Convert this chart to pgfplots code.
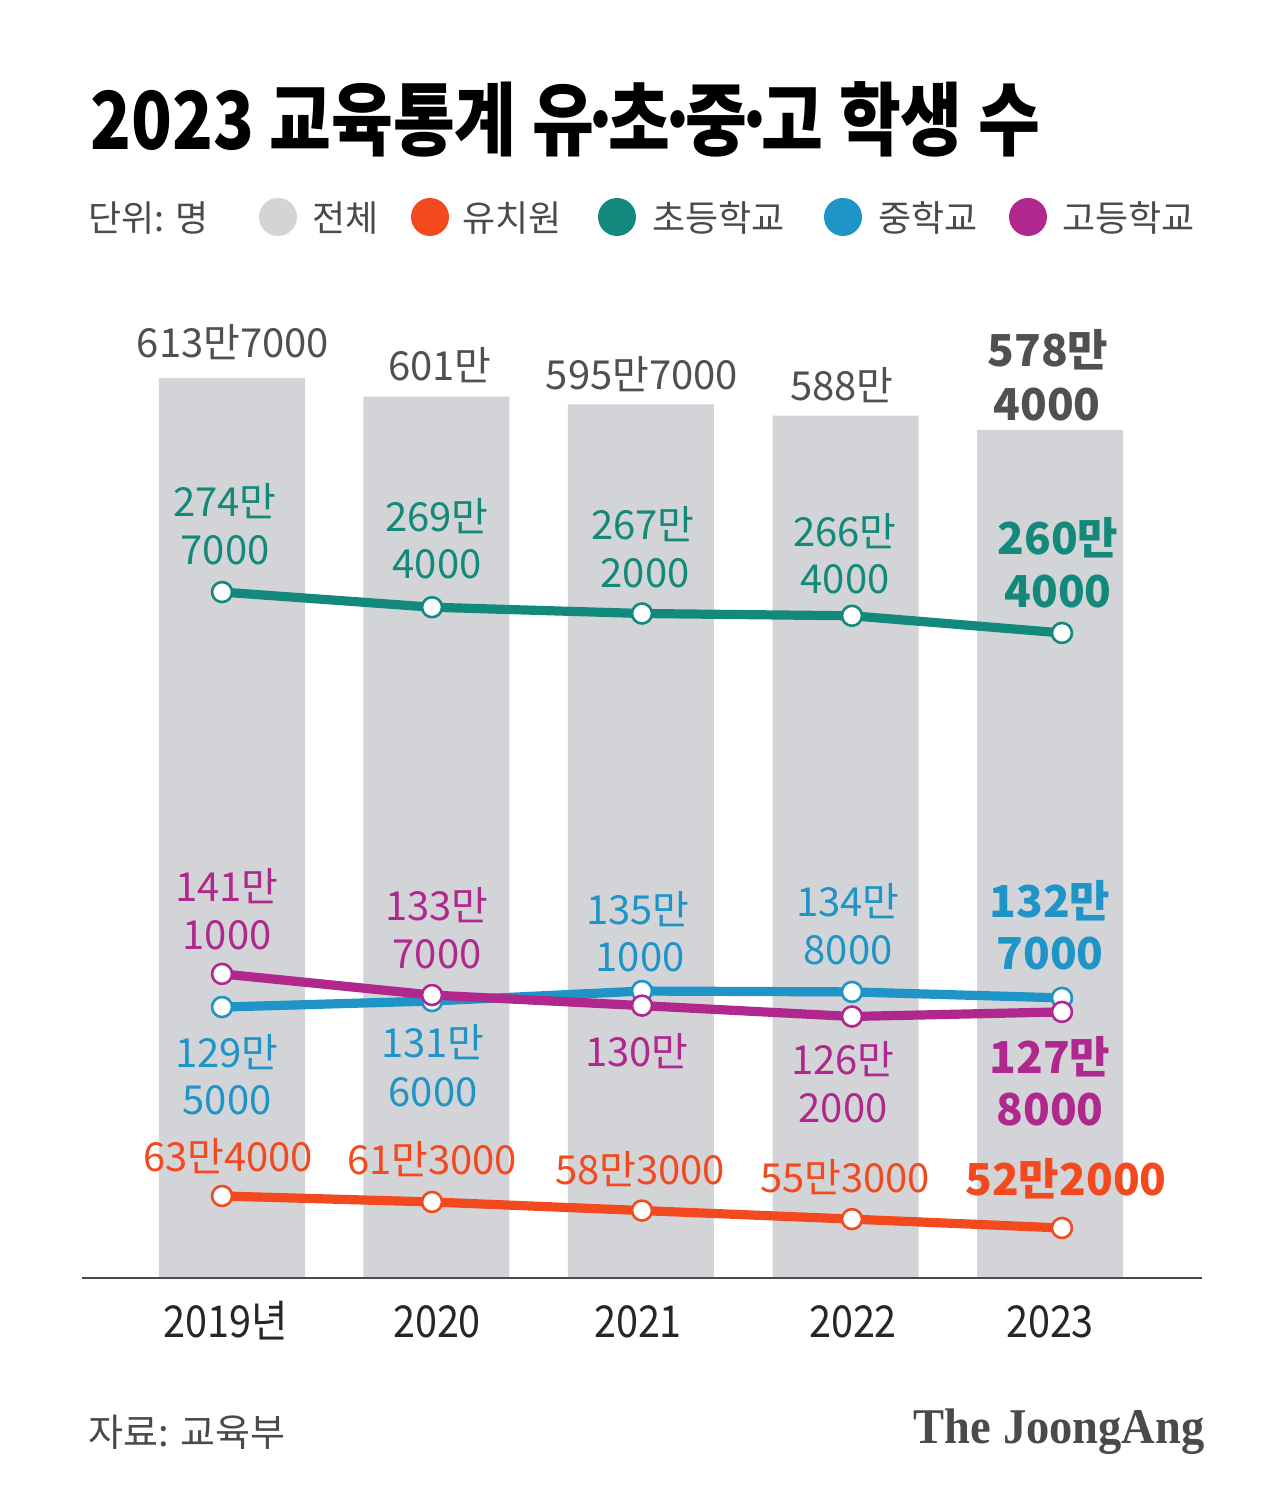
\documentclass[border=0pt]{standalone}
\usepackage{pgfplots}
\pgfplotsset{compat=1.18}
\usepackage{fontspec}
\setmainfont{Noto Sans CJK KR}
\newfontfamily\logofont{Liberation Serif}
\definecolor{barg}{HTML}{D2D4D7}
\definecolor{ctot}{HTML}{505050}
\definecolor{ckin}{HTML}{F24A1E}
\definecolor{cele}{HTML}{12897A}
\definecolor{cmid}{HTML}{1E95C6}
\definecolor{chig}{HTML}{B0288D}
\definecolor{cleg}{HTML}{D3D4D6}
\definecolor{ctxt}{HTML}{4A4A4A}
\newcommand{\md}{\makebox[0.22em][c]{·}}
\begin{document}
\begin{tikzpicture}
\path[use as bounding box] (0,0) rectangle (640pt,753pt);
\fill[white] (0,0) rectangle (640pt,753pt);
% bars: total students (만 명)
\begin{axis}[at={(41pt,114pt)}, anchor=south west, scale only axis,
  width=560pt, height=450pt, xmin=-0.733, xmax=4.743, ymin=0, ymax=613.7,
  axis lines=none, clip=false]
\addplot[ybar, bar width=73pt, fill=barg, draw=none] coordinates {(0,613.7)(1,601.0)(2,595.7)(3,588.0)(4,578.4)};
\end{axis}
% lines
\begin{axis}[at={(41pt,114pt)}, anchor=south west, scale only axis,
  width=560pt, height=450pt, xmin=-0.667, xmax=4.667, ymin=34.7, ymax=349.6,
  axis lines=none, clip=false]
\addplot[cele, line width=4.6pt, line join=round, mark=*, mark size=5pt, mark options={fill=white, draw=cele, line width=1.3pt}] coordinates {(0,274.7)(1,269.4)(2,267.2)(3,266.4)(4,260.4)};
\addplot[cmid, line width=4.6pt, line join=round, mark=*, mark size=5pt, mark options={fill=white, draw=cmid, line width=1.3pt}] coordinates {(0,129.5)(1,131.6)(2,135.1)(3,134.8)(4,132.7)};
\addplot[chig, line width=4.6pt, line join=round, mark=*, mark size=5pt, mark options={fill=white, draw=chig, line width=1.3pt}] coordinates {(0,141.1)(1,133.7)(2,130.0)(3,126.2)(4,127.8)};
\addplot[ckin, line width=4.6pt, line join=round, mark=*, mark size=5pt, mark options={fill=white, draw=ckin, line width=1.3pt}] coordinates {(0,63.4)(1,61.3)(2,58.3)(3,55.3)(4,52.2)};
\end{axis}
\begin{scope}[shift={(0pt,753pt)}, x=0.5pt, y=-0.5pt]
% baseline
\draw[ctxt, line width=1.4pt] (82,1278) -- (1202,1278);
% title
\node[anchor=base west, inner sep=0pt, xscale=0.84, font=\fontsize{40}{48}\selectfont\bfseries, text=black] at (90,150) {2023 교육통계 유\md 초\md 중\md 고 학생 수};
% legend
\tikzset{lg/.style={anchor=base west, inner sep=0pt, font=\fontsize{18}{22}\selectfont, text=ctxt}}
\node[lg] at (88,232) {단위: 명};
\fill[cleg] (278,217) circle (19);
\node[lg] at (312,232) {전체};
\fill[ckin] (430,217) circle (19);
\node[lg] at (462,232) {유치원};
\fill[cele] (617,217) circle (19);
\node[lg] at (652,232) {초등학교};
\fill[cmid] (843,217) circle (19);
\node[lg] at (878,232) {중학교};
\fill[chig] (1028,217) circle (19);
\node[lg] at (1062,232) {고등학교};
% value labels
\tikzset{v/.style={anchor=base, inner sep=0pt, font=\fontsize{20}{24}\selectfont},
         vb/.style={anchor=base, inner sep=0pt, font=\fontsize{22}{26}\selectfont\bfseries}}
% totals
\node[v, text=ctot] at (233,358) {613만7000};
\node[v, text=ctot] at (440,381) {601만};
\node[v, text=ctot] at (642,390) {595만7000};
\node[v, text=ctot] at (842,401) {588만};
\node[vb, text=ctot] at (1048,367) {578만};
\node[vb, text=ctot] at (1047,421) {4000};
% elementary
\node[v, text=cele] at (225,517) {274만};
\node[v, text=cele] at (225,565) {7000};
\node[v, text=cele] at (437,532) {269만};
\node[v, text=cele] at (437,579) {4000};
\node[v, text=cele] at (643,540) {267만};
\node[v, text=cele] at (645,588) {2000};
\node[v, text=cele] at (845,547) {266만};
\node[v, text=cele] at (845,594) {4000};
\node[vb, text=cele] at (1058,555) {260만};
\node[vb, text=cele] at (1058,608) {4000};
% high
\node[v, text=chig] at (227,902) {141만};
\node[v, text=chig] at (227,950) {1000};
\node[v, text=chig] at (437,921) {133만};
\node[v, text=chig] at (437,969) {7000};
\node[v, text=chig] at (637,1067) {130만};
\node[v, text=chig] at (843,1075) {126만};
\node[v, text=chig] at (843,1123) {2000};
\node[vb, text=chig] at (1050,1074) {127만};
\node[vb, text=chig] at (1050,1126) {8000};
% middle
\node[v, text=cmid] at (227,1068) {129만};
\node[v, text=cmid] at (227,1115) {5000};
\node[v, text=cmid] at (433,1058) {131만};
\node[v, text=cmid] at (433,1107) {6000};
\node[v, text=cmid] at (638,925) {135만};
\node[v, text=cmid] at (640,972) {1000};
\node[v, text=cmid] at (848,917) {134만};
\node[v, text=cmid] at (848,965) {8000};
\node[vb, text=cmid] at (1050,918) {132만};
\node[vb, text=cmid] at (1050,970) {7000};
% kindergarten
\node[v, text=ckin] at (228,1172) {63만4000};
\node[v, text=ckin] at (432,1175) {61만3000};
\node[v, text=ckin] at (640,1185) {58만3000};
\node[v, text=ckin] at (845,1193) {55만3000};
\node[vb, text=ckin] at (1066,1196) {52만2000};
% years
\tikzset{yr/.style={anchor=base, inner sep=0pt, xscale=0.9, font=\fontsize{22}{26}\selectfont, text=black!85}}
\node[yr] at (226,1338) {2019년};
\node[yr] at (437,1338) {2020};
\node[yr] at (638,1338) {2021};
\node[yr] at (853,1338) {2022};
\node[yr] at (1050,1338) {2023};
% footer
\node[anchor=base west, inner sep=0pt, font=\fontsize{19}{23}\selectfont, text=ctxt] at (88,1446) {자료: 교육부};
\node[anchor=base east, inner sep=0pt, xscale=0.93, font=\fontsize{25}{30}\logofont\bfseries, text=ctxt] at (1205,1444) {The JoongAng};
\end{scope}
\end{tikzpicture}
\end{document}
